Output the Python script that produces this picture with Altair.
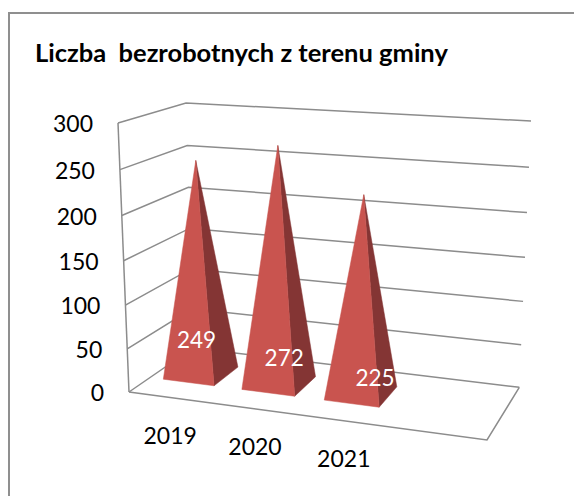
import altair as alt
import pandas as pd

TITLE = "Liczba\u00a0 bezrobotnych z terenu gminy"
categories = ["2019", "2020", "2021"]
values = [249, 272, 225]
ticks = [0, 50, 100, 150, 200, 250, 300]

# layout of the 3D box and bars (unit coordinates along width u, depth w)
bar_u = [0.111, 0.34, 0.58]
bar_half = [0.073, 0.076, 0.079]
w_front, w_back, w_mid = 0.33, 0.74, 0.535
label_u = [0.10, 0.355, 0.62]
label_v = [38, 30, 19]
cat_u = [0.115, 0.352, 0.60]

# projection corners: (x, y) on page
FLB, FRB, BRB, BLB = (129, 392), (487, 440), (519.3, 387.3), (193, 348)
FLT, FRT, BRT, BLT = (118, 123), (501, 150), (531, 121), (186, 103)
K = 0.048


def bil(a, b, c, d, u, w):
    return tuple((1-u)*(1-w)*a[i] + u*(1-w)*b[i] + u*w*c[i] + (1-u)*w*d[i] for i in (0, 1))


def project(u, v, w):
    s = v / 300
    t = s + K * s * (s - 1)
    lo = bil(FLB, FRB, BRB, BLB, u, w)
    hi = bil(FLT, FRT, BRT, BLT, u, w)
    return lo[0] + t * (hi[0] - lo[0]), lo[1] + t * (hi[1] - lo[1])


W, H = 566, 488
xs = alt.Scale(domain=[8, 574], range=[0, W], nice=False, zero=False)
ys = alt.Scale(domain=[8, 496], range=[0, H], nice=False, zero=False)
X = alt.X("px:Q", scale=xs, axis=None)
Y = alt.Y("py:Q", scale=ys, axis=None)
GRID = "#8c8c8c"


def path(points, group=0):
    return [{"px": p[0], "py": p[1], "i": i, "g": group} for i, p in enumerate(points)]


rows = []
g = 0
for v in ticks:
    rows += path([project(0, v, 0), project(0, v, 1), project(1, v, 1)], g)
    g += 1
rows += path([project(0, 0, 0), project(0, 300, 0)], g); g += 1
rows += path([project(0, 0, 0), project(1, 0, 0), project(1, 0, 1)], g)
grid = alt.Chart(pd.DataFrame(rows)).mark_line(stroke=GRID, strokeWidth=1.5, interpolate="linear").encode(
    x=X, y=Y, detail="g:N", order="i:Q")

frame = alt.Chart(pd.DataFrame(path([(9, 496), (9, 13), (574, 13)]))).mark_line(
    stroke="#8f8f8f", strokeWidth=2).encode(x=X, y=Y, order="i:Q")

layers = [frame, grid]
for u0, h, val in zip(bar_u, bar_half, values):
    fl = project(u0 - h, 0, w_front)
    fr = project(u0 + h, 0, w_front)
    rb = project(u0 + h, 0, w_back)
    apex = project(u0, val, w_mid)
    for pts, col in (([fr, rb, apex, fr], "#843534"), ([fl, fr, apex, fl], "#C9544F")):
        layers.append(alt.Chart(pd.DataFrame(path(pts))).mark_line(
            fill=col, stroke=col, strokeWidth=0.5).encode(x=X, y=Y, order="i:Q"))

font = "Lato"
title_df = pd.DataFrame([{"px": 35, "py": 62, "t": TITLE}])
layers.append(alt.Chart(title_df).mark_text(font=font, fontSize=25.5, fontWeight="bold", align="left",
                                            baseline="alphabetic", color="black").encode(x=X, y=Y, text="t:N"))

tick_rows = []
for v in ticks:
    p = project(0, v, 0)
    tick_rows.append({"px": p[0] - 25, "py": p[1] + 2, "t": str(v)})
layers.append(alt.Chart(pd.DataFrame(tick_rows)).mark_text(font=font, fontSize=23, align="right",
                                                           baseline="middle", color="black").encode(x=X, y=Y, text="t:N"))

cat_rows = []
for c, u in zip(categories, cat_u):
    p = project(u, 0, 0)
    cat_rows.append({"px": p[0], "py": p[1] + 39.5, "t": c})
layers.append(alt.Chart(pd.DataFrame(cat_rows)).mark_text(font=font, fontSize=23, align="center",
                                                          baseline="middle", color="black").encode(x=X, y=Y, text="t:N"))

val_rows = []
for val, u, lv in zip(values, label_u, label_v):
    p = project(u, lv, w_mid)
    val_rows.append({"px": p[0], "py": p[1], "t": str(val)})
layers.append(alt.Chart(pd.DataFrame(val_rows)).mark_text(font=font, fontSize=22.5, align="center",
                                                          baseline="middle", color="white").encode(x=X, y=Y, text="t:N"))

chart = alt.layer(*layers).properties(
    width=W, height=H, padding=0, autosize=alt.AutoSizeParams(type="none"), background="white"
).configure_view(stroke=None)

chart.save("out.html", embed_options={"renderer": "svg", "actions": False})
